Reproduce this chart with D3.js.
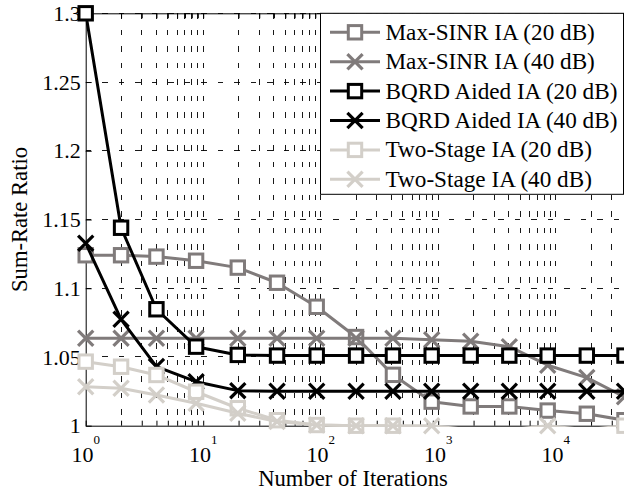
<!DOCTYPE html>
<html>
<head>
<meta charset="utf-8">
<script src="https://cdn.jsdelivr.net/npm/d3@7"></script>
<style>
  html, body { margin: 0; padding: 0; background: #fff; }
  svg { display: block; }
</style>
</head>
<body>
<script>
// ---- data ----
const iterations = [1, 2, 4, 8.7, 19.7, 42.5, 92.5, 200, 412, 880, 1890, 4030, 8550, 18400, 38500];
const maxSinr20 = [1.124, 1.124, 1.123, 1.120, 1.115, 1.104, 1.0865, 1.0645, 1.037, 1.0175, 1.014, 1.014, 1.011, 1.0087, 1.004];
const maxSinr40 = [1.0636, 1.0636, 1.0636, 1.0636, 1.0636, 1.0636, 1.0636, 1.0636, 1.0636, 1.0625, 1.0615, 1.0575, 1.044, 1.035, 1.021];
const bqrd20 = [1.3, 1.144, 1.0847, 1.0575, 1.0515, 1.051, 1.051, 1.051, 1.051, 1.051, 1.051, 1.051, 1.051, 1.051, 1.051];
const bqrd40 = [1.1327, 1.0774, 1.043, 1.032, 1.0255, 1.025, 1.025, 1.025, 1.025, 1.025, 1.025, 1.025, 1.025, 1.025, 1.025];
const twoStage20 = [1.0466, 1.0429, 1.0369, 1.0247, 1.0127, 1.004, 1.0005, 1.0, 1.0, 0.997, 0.997, 0.997, 0.997, 0.997, 1.0];
const twoStage40 = [1.0284, 1.0272, 1.0223, 1.0163, 1.009, 1.003, 1.0005, 1.0, 1.0, 1.0, 0.997, 0.997, 1.0, 0.997, 0.997];

const seriesNames = ["Max-SINR IA (20 dB)", "Max-SINR IA (40 dB)", "BQRD Aided IA (20 dB)", "BQRD Aided IA (40 dB)", "Two-Stage IA (20 dB)", "Two-Stage IA (40 dB)"];
const seriesValues = [maxSinr20, maxSinr40, bqrd20, bqrd40, twoStage20, twoStage40];
const seriesColors = ["#807b7b", "#807b7b", "#000000", "#000000", "#d3cfc9", "#d3cfc9"];
const seriesMarkers = ["square", "x", "square", "x", "square", "x"];

const yTicks = [1, 1.05, 1.1, 1.15, 1.2, 1.25, 1.3];
const xMajorTicks = [1, 10, 100, 1000, 10000];
const xTickExponents = ["0", "1", "2", "3", "4"];
const xLabel = "Number of Iterations";
const yLabel = "Sum-Rate Ratio";

// ---- layout ----
const W = 624, H = 497;
const pLeft = 85.7, pTop = 13.3, pBottom = 425.7;
const decade = 117.5;
const pRight = pLeft + 5 * decade;
const FONT = "'Liberation Serif', 'Times New Roman', serif";

const x = d3.scaleLog().domain([1, 1e5]).range([pLeft, pRight]);
const y = d3.scaleLinear().domain([1, 1.3]).range([pBottom, pTop]);

const xAllTicks = [];
for (let e = 0; e < 5; e++) for (let m = 1; m <= 9; m++) xAllTicks.push(m * Math.pow(10, e));
xAllTicks.push(1e5);

const svg = d3.select("body").append("svg").attr("width", W).attr("height", H)
  .style("font-family", FONT);
svg.append("rect").attr("width", W).attr("height", H).attr("fill", "#fff");

// clip
svg.append("clipPath").attr("id", "plotclip").append("rect")
  .attr("x", pLeft).attr("y", pTop - 2).attr("width", pRight - pLeft).attr("height", pBottom - pTop + 3.3);

// grid
const grid = svg.append("g").attr("stroke", "#000").attr("stroke-width", 0.9)
  .attr("stroke-dasharray", "5.5,11").attr("shape-rendering", "crispEdges");
grid.selectAll("line.v").data(xAllTicks.filter(d => d > 1)).enter().append("line")
  .attr("x1", d => x(d)).attr("x2", d => x(d)).attr("y1", pTop).attr("y2", pBottom);
grid.selectAll("line.h").data(yTicks.filter(d => d > 1)).enter().append("line")
  .attr("x1", pLeft).attr("x2", pRight).attr("y1", d => y(d)).attr("y2", d => y(d));

// axes (ticks inward)
const axB = svg.append("g").attr("transform", `translate(0,${pBottom})`)
  .call(d3.axisBottom(x).tickValues(xAllTicks).tickSizeInner(-5).tickSizeOuter(0).tickFormat(""));
const axT = svg.append("g").attr("transform", `translate(0,${pTop})`)
  .call(d3.axisTop(x).tickValues(xAllTicks).tickSizeInner(-5).tickSizeOuter(0).tickFormat(""));
const axL = svg.append("g").attr("transform", `translate(${pLeft},0)`)
  .call(d3.axisLeft(y).tickValues(yTicks).tickSizeInner(-6).tickSizeOuter(0).tickPadding(5)
    .tickFormat(d => String(+d.toFixed(2))));
[axB, axT, axL].forEach(g => {
  g.attr("font-family", FONT);
  g.selectAll("path.domain").attr("stroke", "#000").attr("stroke-width", 1);
  g.selectAll(".tick line").attr("stroke", "#000").attr("stroke-width", 1);
});
axL.selectAll(".tick text").attr("font-size", 22).attr("font-family", FONT).attr("fill", "#000");

// x tick labels 10^k
const xl = svg.append("g").attr("fill", "#000").attr("font-family", FONT);
xl.selectAll("text.base").data(xMajorTicks).enter().append("text")
  .attr("x", d => x(d) - 14.2).attr("y", 462).attr("font-size", 22).text("10");
xl.selectAll("text.exp").data(xMajorTicks).enter().append("text")
  .attr("x", (d, i) => x(d) + 7.8).attr("y", 444).attr("font-size", 13)
  .text((d, i) => xTickExponents[i]);

// axis titles
svg.append("text").attr("x", 353).attr("y", 485.5).attr("text-anchor", "middle")
  .attr("font-family", FONT).attr("font-size", 22.6).text(xLabel);
svg.append("text").attr("transform", `translate(26.5,${(pTop + pBottom) / 2}) rotate(-90)`)
  .attr("font-family", FONT).attr("text-anchor", "middle").attr("font-size", 22.6).text(yLabel);

// data
const line = d3.line().x((d, i) => x(iterations[i])).y(d => y(d));
const dataG = svg.append("g");
function drawMarker(g, type, cx, cy, color) {
  if (type === "square") {
    g.append("rect").attr("x", cx - 6.7).attr("y", cy - 6.7).attr("width", 13.4).attr("height", 13.4)
      .attr("fill", "#fff").attr("stroke", color).attr("stroke-width", 3);
  } else {
    const s = 7.6;
    g.append("path").attr("d", `M${cx - s},${cy - s}L${cx + s},${cy + s}M${cx - s},${cy + s}L${cx + s},${cy - s}`)
      .attr("fill", "none").attr("stroke", color).attr("stroke-width", 3.2);
  }
}
seriesValues.forEach((vals, si) => {
  const g = dataG.append("g");
  g.append("path").attr("d", line(vals)).attr("fill", "none")
    .attr("stroke", seriesColors[si]).attr("stroke-width", 3).attr("stroke-linejoin", "round")
    .attr("clip-path", "url(#plotclip)");
  vals.forEach((v, i) => {
    if (v >= 1 && v <= 1.3) drawMarker(g, seriesMarkers[si], x(iterations[i]), y(v), seriesColors[si]);
  });
});

// legend
const lg = svg.append("g").attr("font-family", FONT);
lg.append("rect").attr("x", 320.5).attr("y", pTop).attr("width", 303).attr("height", 181)
  .attr("fill", "#fff").attr("stroke", "#000").attr("stroke-width", 1);
seriesNames.forEach((name, i) => {
  const ry = 32.3 + i * 29.4;
  lg.append("line").attr("x1", 330).attr("x2", 380).attr("y1", ry).attr("y2", ry)
    .attr("stroke", seriesColors[i]).attr("stroke-width", 3);
  drawMarker(lg, seriesMarkers[i], 355, ry, seriesColors[i]);
  lg.append("text").attr("x", 385.5).attr("y", ry + 7.5).attr("font-size", 23.2).text(name);
});
</script>
</body>
</html>
